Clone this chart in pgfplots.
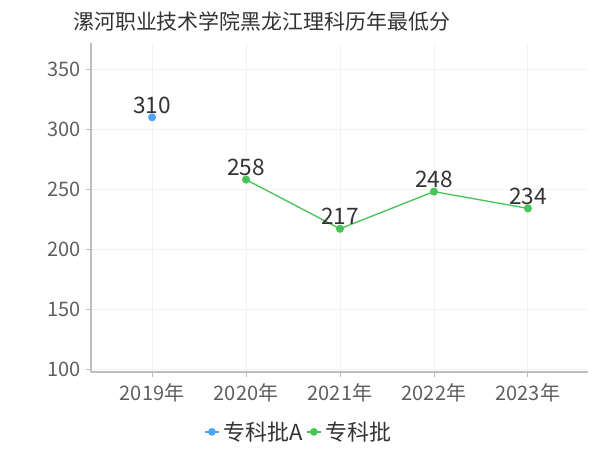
\documentclass[border=0pt]{standalone}
\usepackage{fontspec}
\setmainfont{Noto Sans CJK SC}
\usepackage{pgfplots}
\pgfplotsset{compat=1.18}
\definecolor{cblue}{RGB}{77,166,245}
\definecolor{cgreen}{RGB}{72,196,88}
\definecolor{tickgray}{RGB}{95,95,95}
\definecolor{axgray}{RGB}{190,190,190}
\definecolor{gridgray}{RGB}{242,242,242}
\definecolor{labgray}{RGB}{51,51,51}
\begin{document}
\begin{tikzpicture}
\path[use as bounding box] (0pt,0pt) rectangle (450pt,337.5pt);
\node[anchor=west,text=labgray,font=\fontsize{15.7pt}{18pt}\selectfont,inner sep=0pt] at (54.75pt,321.75pt) {漯河职业技术学院黑龙江理科历年最低分};
\begin{axis}[
  at={(68.25pt,58.5pt)}, anchor=south west,
  scale only axis, width=372.75pt, height=246.75pt,
  xmin=-0.65, xmax=4.64, ymin=97.5, ymax=372,
  xtick={0,1,2,3,4},
  xticklabels={2019年,2020年,2021年,2022年,2023年},
  ytick={100,150,200,250,300,350},
  /pgf/number format/assume math mode=true,
  tick label style={font=\fontsize{15pt}{18pt}\selectfont, text=tickgray},
  axis x line*=bottom, axis y line*=left,
  axis line style={axgray, line width=0.8pt},
  every tick/.style={axgray, line width=0.6pt},
  tick align=outside, major tick length=4pt,
  xtick pos=bottom, ytick pos=left,
  grid=major, major grid style={gridgray, line width=0.6pt},
  xticklabel style={yshift=-1pt},
  legend style={at={(0.419,-0.182)}, anchor=center, draw=none, fill=none,
    font=\fontsize{16.5pt}{18pt}\selectfont, text=labgray, column sep=1pt,
    /tikz/every even column/.append style={column sep=1pt}},
  legend columns=2,
  legend image code/.code={
    \draw[#1, line width=1pt] (0pt,0pt) -- (10pt,0pt);
    \fill[#1] (5pt,0pt) circle (2.4pt);
  },
  nodes near coords,
  every node near coord/.append style={font=\fontsize{17pt}{18pt}\selectfont, text=labgray, anchor=south, yshift=-1pt},
  clip=false,
]
\addplot[cblue, line width=1pt, mark=*, mark size=2.5pt, mark options={fill=cblue, draw=cblue}] coordinates {(0,310)};
\addlegendentry{专科批A}
\addplot[cgreen, line width=1pt, mark=*, mark size=2.5pt, mark options={fill=cgreen, draw=cgreen}] coordinates {(1,258) (2,217) (3,248) (4,234)};
\addlegendentry{专科批}
\end{axis}
\end{tikzpicture}
\end{document}
